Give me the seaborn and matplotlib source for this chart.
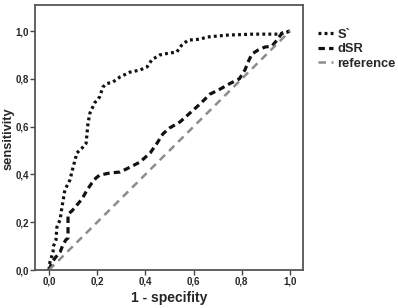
import matplotlib
matplotlib.use("Agg")
import matplotlib.pyplot as plt
import seaborn as sns
import pandas as pd
from matplotlib.ticker import FixedLocator

# ---- data ----
s_fpr = [0.0, 0.004, 0.017, 0.017, 0.029, 0.033, 0.046, 0.054, 0.066, 0.087, 0.10, 0.116,
         0.137, 0.154, 0.158, 0.162, 0.17, 0.19, 0.21, 0.224, 0.24, 0.266, 0.295, 0.336,
         0.378, 0.407, 0.427, 0.46, 0.50, 0.53, 0.55, 0.577, 0.627, 0.656, 0.74, 0.846,
         0.958, 0.99, 1.0]
s_tpr = [0.0, 0.033, 0.075, 0.096, 0.126, 0.18, 0.21, 0.264, 0.335, 0.377, 0.43, 0.49,
         0.51, 0.53, 0.573, 0.615, 0.657, 0.70, 0.724, 0.766, 0.78, 0.787, 0.808, 0.828,
         0.837, 0.85, 0.88, 0.90, 0.908, 0.912, 0.94, 0.962, 0.966, 0.975, 0.983, 0.987,
         0.987, 0.996, 1.0]

d_fpr = [0.0, 0.012, 0.025, 0.046, 0.058, 0.07, 0.079, 0.079, 0.079, 0.095, 0.116, 0.137,
         0.158, 0.178, 0.195, 0.21, 0.253, 0.295, 0.336, 0.378, 0.42, 0.448, 0.473, 0.50,
         0.544, 0.585, 0.627, 0.668, 0.71, 0.75, 0.79, 0.813, 0.826, 0.842, 0.867, 0.896,
         0.925, 0.946, 0.967, 1.0]
d_tpr = [0.0, 0.03, 0.05, 0.075, 0.105, 0.126, 0.134, 0.18, 0.234, 0.247, 0.272, 0.297,
         0.335, 0.364, 0.385, 0.397, 0.406, 0.41, 0.43, 0.452, 0.49, 0.53, 0.57, 0.594,
         0.62, 0.657, 0.695, 0.736, 0.757, 0.78, 0.80, 0.837, 0.87, 0.904, 0.92, 0.933,
         0.937, 0.962, 0.992, 1.0]

ref_fpr = [0.0, 1.0]
ref_tpr = [0.0, 1.0]

series_names = ["S`", "dSR", "reference"]
tick_values = [0.0, 0.2, 0.4, 0.6, 0.8, 1.0]
tick_labels = ["0,0", "0,2", "0,4", "0,6", "0,8", "1,0"]

# ---- figure ----
sns.set_theme(style="white")
plt.rcParams["font.family"] = ["Liberation Sans", "DejaVu Sans"]
plt.rcParams["font.weight"] = "bold"

fig = plt.figure(figsize=(3.98, 3.08), dpi=100)
ax = fig.add_axes([35/398, 1 - 270/308, (303-35)/398, (270-5)/308])

df_s = pd.DataFrame({"fpr": s_fpr, "tpr": s_tpr})
df_d = pd.DataFrame({"fpr": d_fpr, "tpr": d_tpr})
df_r = pd.DataFrame({"fpr": ref_fpr, "tpr": ref_tpr})

sns.lineplot(data=df_s, x="fpr", y="tpr", ax=ax, sort=False, estimator=None,
             color="#111111", lw=2.3, linestyle=(0, (0.9, 1.0)), label=series_names[0])
sns.lineplot(data=df_d, x="fpr", y="tpr", ax=ax, sort=False, estimator=None,
             color="#111111", lw=2.3, linestyle=(0, (2.0, 1.3)), label=series_names[1])
sns.lineplot(data=df_r, x="fpr", y="tpr", ax=ax, sort=False, estimator=None,
             color="#8c8c8c", lw=1.8, linestyle=(0, (3.0, 2.2)), label=series_names[2])

ax.set_xlim(-0.058, 1.054)
ax.set_ylim(0.0, 1.109)

ax.xaxis.set_major_locator(FixedLocator(tick_values))
ax.yaxis.set_major_locator(FixedLocator(tick_values))
ax.set_xticklabels(tick_labels, fontsize=7, fontweight="bold")
ax.set_yticklabels(tick_labels, fontsize=7, fontweight="bold")
ax.tick_params(axis="both", which="major", direction="out", length=3.5, width=1,
               color="#444444", pad=1, bottom=True, left=True, top=False, right=False)

for sp in ax.spines.values():
    sp.set_color("#555555")
    sp.set_linewidth(1.3)

ax.set_xlabel("1 - specifity", fontsize=10, fontweight="bold")
ax.set_ylabel("sensitivity", fontsize=9.3, fontweight="bold")
ax.xaxis.set_label_coords(0.5, (270 - 291) / 265)
ax.yaxis.set_label_coords((15 - 35) / 268, 0.5 - 1.5 / 265)

leg = ax.legend(loc="upper left", bbox_to_anchor=(312/398, 1 - 22/308),
                bbox_transform=fig.transFigure, frameon=False, fontsize=9.3,
                handlelength=1.15, handletextpad=0.3, labelspacing=0.2, borderpad=0)
for t in leg.get_texts():
    t.set_fontweight("bold")

fig.savefig("out.png", dpi=100)
